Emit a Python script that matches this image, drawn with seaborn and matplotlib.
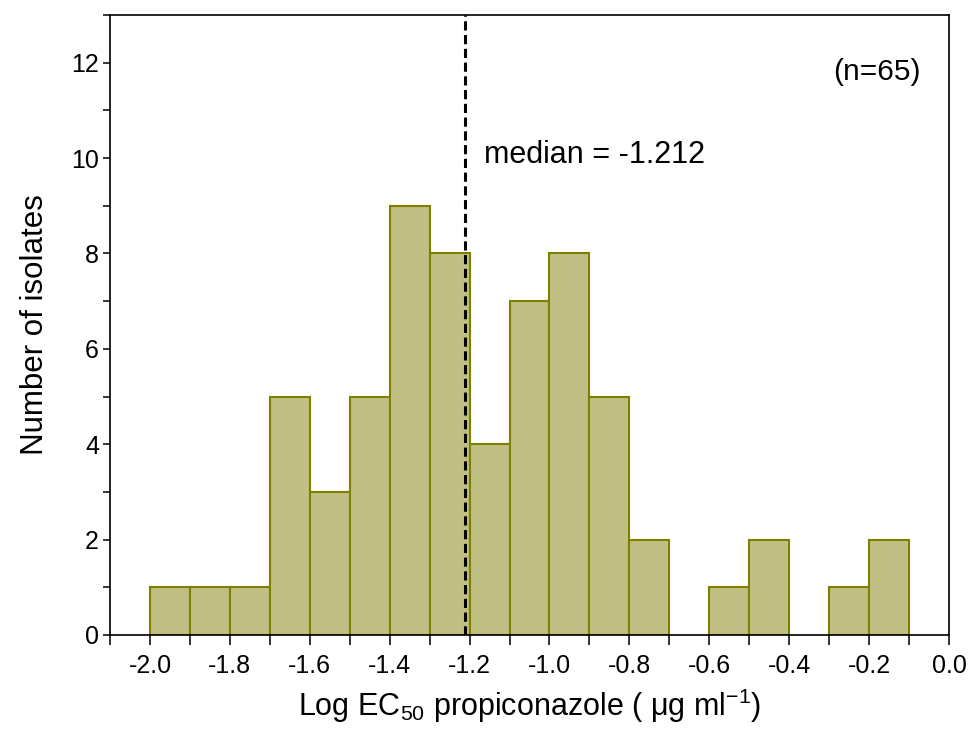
import numpy as np
import pandas as pd
import matplotlib
matplotlib.use("Agg")
import matplotlib.pyplot as plt
import seaborn as sns
from matplotlib.ticker import MultipleLocator, FormatStrFormatter

# ---- data ----
bin_lefts = [-2.0, -1.9, -1.8, -1.7, -1.6, -1.5, -1.4, -1.3, -1.2, -1.1,
             -1.0, -0.9, -0.8, -0.7, -0.6, -0.5, -0.4, -0.3, -0.2]
counts = [1, 1, 1, 5, 3, 5, 9, 8, 4, 7, 8, 5, 2, 0, 1, 2, 0, 1, 2]
bin_width = 0.1
median_value = -1.212
n_label = "(n=65)"
median_label = "median = -1.212"

sns.set_theme(style="white")
plt.rcParams['font.family'] = ['Liberation Sans', 'DejaVu Sans']
plt.rcParams['mathtext.fontset'] = 'custom'
plt.rcParams['mathtext.rm'] = 'Liberation Sans'
plt.rcParams['mathtext.it'] = 'Liberation Sans'
plt.rcParams['mathtext.bf'] = 'Liberation Sans:bold'

df = pd.DataFrame({"center": np.array(bin_lefts) + bin_width / 2,
                   "count": counts})
edges = list(bin_lefts) + [bin_lefts[-1] + bin_width]

fig = plt.figure(figsize=(9.73, 7.41), dpi=100)
ax = fig.add_axes([110/973, 1 - 635/741, (949-110)/973, (635-15)/741])

sns.histplot(data=df, x="center", weights="count", bins=edges, ax=ax,
             color="#C0C084", edgecolor="#808000", linewidth=1.5, alpha=1.0)
for p in ax.patches:
    if p.get_height() == 0:
        p.set_visible(False)

ax.axvline(median_value, color="black", linestyle=(0, (3.0, 1.5)), linewidth=2.2, zorder=5)

ax.set_xlim(-2.1, 0.0)
ax.set_ylim(0, 13)

ax.xaxis.set_major_locator(MultipleLocator(0.2))
ax.xaxis.set_minor_locator(MultipleLocator(0.1))
ax.xaxis.set_major_formatter(FormatStrFormatter('%.1f'))
ax.yaxis.set_major_locator(MultipleLocator(2))
ax.yaxis.set_minor_locator(MultipleLocator(1))

ax.tick_params(axis='x', which='both', direction='out', length=7, width=1.1,
               colors='black', labelsize=18, pad=7, bottom=True)
ax.tick_params(axis='y', which='both', direction='out', length=5, width=1.1,
               colors='black', labelsize=18, pad=3, left=True)

for s in ax.spines.values():
    s.set_visible(True)
    s.set_color('black')
    s.set_linewidth(1.2)

ax.set_xlabel("Log EC$_{50}$ propiconazole ( \u03bcg ml$^{-1}$)", fontsize=22, labelpad=6, color='black')
ax.set_ylabel("Number of isolates", fontsize=22.5, labelpad=15, color='black')

ax.text(-1.164, 10.07, median_label, fontsize=22, ha='left', va='center', color='black')
ax.text(-0.07, 11.8, n_label, fontsize=21.5, ha='right', va='center', color='black')

fig.savefig("out.png", dpi=100)
